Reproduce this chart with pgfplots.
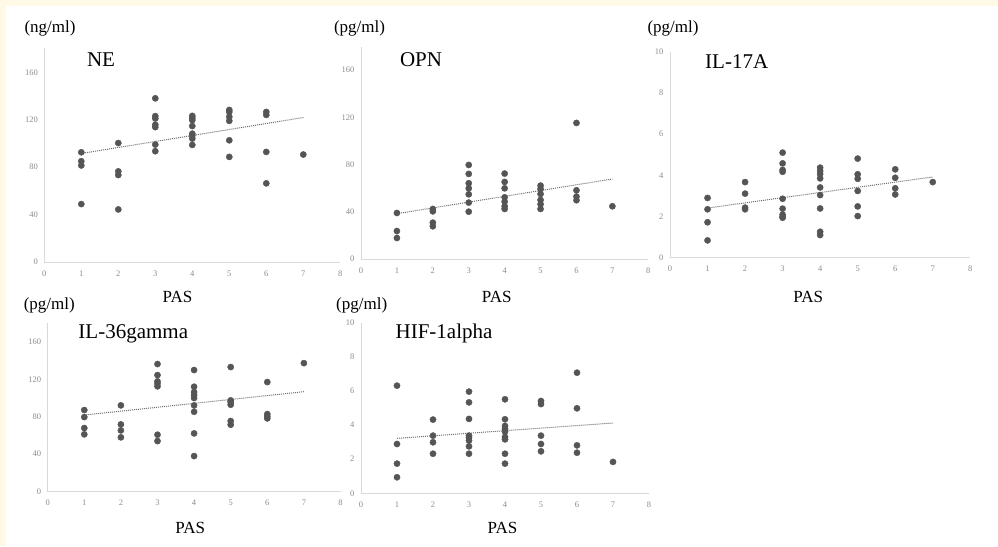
\documentclass[border=0pt]{standalone}
\usepackage{fontspec}
\setmainfont{Liberation Serif}
\usepackage{pgfplots}
\pgfplotsset{compat=1.18}

\definecolor{cream}{RGB}{255,249,230}
\definecolor{axisgray}{RGB}{217,217,217}
\definecolor{tickgray}{RGB}{140,140,140}
\definecolor{dotgray}{RGB}{85,85,85}
\definecolor{trendgray}{RGB}{110,110,110}

\pgfplotsset{
  panel/.style={
    scale only axis,
    anchor=south west,
    axis lines*=left,
    axis line style={-, draw=axisgray, line width=0.8pt},
    major tick length=0pt,
    xmin=0, xmax=8, xtick={0,...,8},
    ymin=0,
    tick label style={font=\fontsize{8.5}{10}\selectfont, text=tickgray},
    /pgf/number format/assume math mode=true,
    xticklabel style={yshift=-5pt},
    yticklabel style={xshift=-3pt},
    clip=false,
  },
  pts/.style={only marks, mark=*, mark size=3.1pt, dotgray, mark options={draw=dotgray, fill=dotgray}},
  trend/.style={no marks, densely dotted, draw=trendgray, line width=1pt},
}

\begin{document}
\begin{tikzpicture}[x=1pt, y=1pt]
\fill[cream] (0,0) rectangle (998,546);
\fill[white] (6,0) rectangle (998,540);

% NE
\begin{axis}[panel, at={(44.3pt,284pt)}, width=296pt, height=213.5pt,
  ymax=180, ytick={0,40,...,160}]
\addplot[pts] table {
1 92.5
1 85
1 81.4
1 48.8
2 100.3
2 76.4
2 73.3
2 44.3
3 138
3 123
3 121
3 115.7
3 113.7
3 99
3 93.4
4 123.2
4 121.3
4 119.6
4 114.6
4 108.2
4 106.5
4 104
4 98.7
5 128.2
5 126.5
5 122.4
5 119
5 102.6
5 88.6
6 126.5
6 124
6 92.8
6 66.3
7 90.6
};
\addplot[trend] coordinates {(1,91.5) (7,121.8)};
\end{axis}

% OPN
\begin{axis}[panel, at={(361pt,287pt)}, width=287.3pt, height=212.4pt,
  ymax=180, ytick={0,40,...,160}]
\addplot[pts] table {
1 39
1 23.7
1 17.8
2 42.4
2 40.4
2 30.8
2 27.7
3 79.7
3 72.1
3 64.2
3 59.9
3 54.8
3 47.8
3 40.1
4 72.4
4 65.3
4 59.9
4 52.3
4 48.6
4 44.7
4 42.4
5 62.2
5 59.4
5 55.1
5 50
5 46.4
5 42.4
6 115.3
6 58.2
6 52.9
6 49.8
7 44.7
};
\addplot[trend] coordinates {(1,38.4) (7,67.8)};
\end{axis}

% IL-17A
\begin{axis}[panel, at={(670pt,288.3pt)}, width=300.3pt, height=206pt,
  ymax=10, ytick={0,2,...,10}]
\addplot[pts] table {
1 2.9
1 2.35
1 1.72
1 0.84
2 3.67
2 3.11
2 2.43
2 2.35
3 5.1
3 4.58
3 4.26
3 4.17
3 2.86
3 2.38
3 2.09
3 1.99
3 1.94
4 4.37
4 4.21
4 4.06
4 3.85
4 3.41
4 3.04
4 2.39
4 1.26
4 1.1
5 4.81
5 4.05
5 3.83
5 3.24
5 2.49
5 2.02
6 4.29
6 3.88
6 3.37
6 3.07
7 3.67
};
\addplot[trend] coordinates {(1,2.41) (7,3.92)};
\end{axis}

% IL-36gamma
\begin{axis}[panel, at={(47.7pt,54.3pt)}, width=292.8pt, height=168.7pt,
  ymax=180, ytick={0,40,...,160}]
\addplot[pts] table {
1 87.1
1 79.6
1 67.9
1 61.2
2 92.1
2 71.8
2 65.4
2 58
3 136.2
3 124.4
3 117.7
3 115.2
3 112.4
3 60.8
3 54
4 129.8
4 112
4 106.3
4 103.1
4 99.9
4 92.1
4 85.3
4 62.2
4 38
5 133
5 97.4
5 95.6
5 92.8
5 75.4
5 71.5
6 117
6 82.8
6 80.4
6 78.2
7 137.2
};
\addplot[trend] coordinates {(1,81.8) (7,106.7)};
\end{axis}

% HIF-1alpha
\begin{axis}[panel, at={(361pt,52.7pt)}, width=288pt, height=170.6pt,
  ymax=10, ytick={0,2,...,10}]
\addplot[pts] table {
1 6.31
1 2.89
1 1.74
1 0.94
2 4.32
2 3.38
2 2.99
2 2.32
3 5.96
3 5.33
3 4.36
3 3.38
3 3.26
3 3.09
3 2.75
3 2.32
4 5.51
4 4.34
4 3.95
4 3.77
4 3.61
4 3.3
4 3.16
4 2.32
4 1.74
5 5.41
5 5.23
5 3.38
5 2.89
5 2.46
6 7.07
6 4.98
6 2.81
6 2.38
7 1.84
};
\addplot[trend] coordinates {(1,3.22) (7,4.12)};
\end{axis}

% units and x labels
\begin{scope}[every node/.style={font=\fontsize{17}{20}\selectfont, inner sep=0pt}]
\node at (50,518) {(ng/ml)};
\node at (359.5,518) {(pg/ml)};
\node at (673,518) {(pg/ml)};
\node at (49.3,241) {(pg/ml)};
\node at (361.7,240.3) {(pg/ml)};
\node at (177.5,249.3) {PAS};
\node at (496.7,249.3) {PAS};
\node at (808.3,249.3) {PAS};
\node at (190.3,18.3) {PAS};
\node at (502.5,17.7) {PAS};
\end{scope}
% panel titles
\begin{scope}[every node/.style={font=\fontsize{21}{24}\selectfont, inner sep=0pt}]
\node at (101,486) {NE};
\node at (421,486.7) {OPN};
\node at (736.7,484.3) {IL-17A};
\node at (133.3,211.7) {IL-36gamma};
\node at (444,212.7) {HIF-1alpha};
\end{scope}

\pgfresetboundingbox
\useasboundingbox (0,0) rectangle (998,546);
\end{tikzpicture}
\end{document}
